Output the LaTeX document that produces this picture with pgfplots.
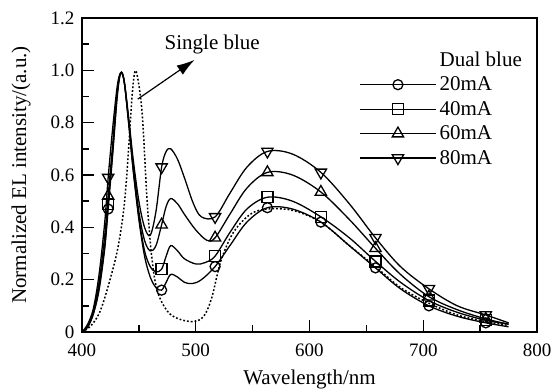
\documentclass[border=0pt]{standalone}
\usepackage{fontspec}
\setmainfont{Liberation Serif}
\usepackage{pgfplots}
\pgfplotsset{compat=1.18}
\usetikzlibrary{arrows.meta}
\pgfplotsset{
  myleg/.style={legend image code/.code={
    \draw[line width=1.3bp, solid] (0bp,0bp)--(76bp,0bp);
    \draw plot coordinates {(38bp,0bp)};}},
  curve/.style={black, line width=1.3bp, smooth, tension=0.55, no marks},
  mk/.style={black, only marks, myleg},
}
\begin{document}
\begin{tikzpicture}
\useasboundingbox (-82bp,-59bp) rectangle (470bp,332bp);
\begin{axis}[
  at={(0,0)}, anchor=south west,
  scale only axis, width=455bp, height=314bp,
  xmin=400, xmax=800, ymin=0, ymax=1.2,
  xtick={400,500,600,700,800}, minor x tick num=1,
  ytick={0,0.2,0.4,0.6,0.8,1.0,1.2},
  yticklabels={0,0.2,0.4,0.6,0.8,1.0,1.2}, minor y tick num=1,
  tick align=inside, xtick pos=bottom, ytick pos=left,
  axis line style={line width=1.6bp},
  major tick length=12bp, minor tick length=7bp,
  every tick/.style={line width=1.4bp, black},
  tick label style={font=\fontsize{19bp}{22bp}\selectfont},
  xticklabel style={yshift=-8bp},
  yticklabel style={xshift=-4bp},
  /pgf/number format/assume math mode=true,
  xlabel={Wavelength/nm}, ylabel={Normalized EL intensity/(a.u.)},
  xlabel style={font=\fontsize{21bp}{25bp}\selectfont, at={(axis description cs:0.5,-0.168)}, anchor=base},
  ylabel style={font=\fontsize{21bp}{25bp}\selectfont, at={(axis description cs:-0.134,0.5)}, anchor=center},
  legend style={draw=none, fill=none, at={(axis description cs:0.609,0.907)}, anchor=north west,
    font=\fontsize{21bp}{25bp}\selectfont, row sep=0bp, inner sep=0bp, nodes={inner xsep=3bp, inner ysep=4.5bp}},
  legend cell align=left,
]
\addlegendimage{empty legend}
\addlegendentry{Dual blue}

% 20 mA
\addplot[curve, forget plot] coordinates {
(400,0.0)(405,0.02)(410,0.07)(415,0.16)(420,0.32)(423,0.47)(427,0.68)(431,0.90)(434,0.99)(437,0.96)(441,0.80)(445,0.62)(450,0.43)(455,0.29)(460,0.21)(465,0.17)(470,0.16)(474,0.19)(478,0.22)(484,0.21)(490,0.19)(497,0.185)(505,0.20)(517,0.25)(530,0.33)(545,0.42)(563,0.475)(585,0.47)(610,0.42)(635,0.33)(658,0.245)(680,0.165)(705,0.10)(730,0.06)(755,0.035)(775,0.02)};
\addplot[mk, mark=o, mark size=5bp, mark options={solid, fill=white, line width=1.3bp}] coordinates {
(423,0.47)(470,0.16)(517,0.25)(563,0.475)(610,0.42)(658,0.245)(705,0.10)(755,0.035)};
\addlegendentry{20mA}

% 40 mA
\addplot[curve, forget plot] coordinates {
(400,0.0)(405,0.02)(410,0.07)(415,0.17)(420,0.33)(423,0.49)(427,0.69)(431,0.91)(434,0.99)(437,0.96)(441,0.80)(445,0.62)(450,0.44)(455,0.31)(460,0.25)(465,0.23)(470,0.24)(474,0.29)(478,0.33)(484,0.31)(490,0.28)(500,0.26)(508,0.265)(517,0.29)(530,0.38)(545,0.47)(563,0.515)(585,0.50)(610,0.44)(635,0.36)(658,0.27)(680,0.19)(705,0.12)(730,0.075)(755,0.045)(775,0.03)};
\addplot[mk, mark=square, mark size=5.5bp, mark options={solid, fill=white, line width=1.3bp}] coordinates {
(423,0.49)(470,0.24)(517,0.29)(563,0.515)(610,0.44)(658,0.27)(705,0.12)(755,0.045)};
\addlegendentry{40mA}

% 60 mA
\addplot[curve, forget plot] coordinates {
(400,0.0)(405,0.02)(410,0.08)(415,0.19)(420,0.37)(423,0.52)(427,0.72)(431,0.92)(434,0.99)(437,0.96)(441,0.81)(445,0.64)(450,0.46)(455,0.35)(460,0.31)(465,0.33)(470,0.41)(474,0.48)(478,0.51)(484,0.49)(490,0.45)(500,0.39)(510,0.35)(517,0.36)(530,0.45)(545,0.55)(563,0.61)(585,0.60)(610,0.535)(635,0.43)(658,0.32)(680,0.22)(705,0.135)(730,0.085)(755,0.05)(775,0.03)};
\addplot[mk, mark=triangle, mark size=6.5bp, mark options={solid, fill=white, line width=1.3bp}] coordinates {
(423,0.52)(470,0.41)(517,0.36)(563,0.61)(610,0.535)(658,0.32)(705,0.135)(755,0.05)};
\addlegendentry{60mA}

% 80 mA
\addplot[curve, forget plot] coordinates {
(400,0.0)(405,0.03)(410,0.09)(415,0.22)(420,0.42)(423,0.59)(427,0.78)(431,0.94)(434,0.99)(437,0.96)(441,0.82)(445,0.66)(450,0.50)(455,0.40)(460,0.37)(465,0.46)(470,0.63)(474,0.69)(478,0.70)(484,0.66)(490,0.59)(498,0.49)(505,0.44)(517,0.44)(530,0.53)(545,0.63)(563,0.69)(585,0.68)(610,0.61)(635,0.49)(658,0.36)(680,0.25)(705,0.165)(730,0.10)(755,0.065)(775,0.035)};
\addplot[mk, mark=triangle, mark size=6.5bp, mark options={solid, fill=white, line width=1.3bp, rotate=180}] coordinates {
(423,0.59)(470,0.63)(517,0.44)(563,0.69)(610,0.61)(658,0.36)(705,0.165)(755,0.065)};
\addlegendentry{80mA}

% single blue
\addplot[black, line width=1.5bp, dash pattern=on 1.8bp off 2bp, smooth, tension=0.55, no marks, forget plot] coordinates {
(400,0.0)(407,0.02)(415,0.07)(422,0.16)(431,0.31)(437,0.48)(441,0.70)(444,0.90)(446.5,0.995)(449,0.97)(453,0.83)(457,0.52)(461,0.30)(466,0.16)(475,0.08)(485,0.05)(498,0.04)(507,0.06)(514,0.13)(522,0.27)(533,0.38)(548,0.45)(563,0.47)(585,0.465)(610,0.42)(635,0.33)(658,0.25)(680,0.17)(705,0.11)(730,0.065)(755,0.04)(775,0.025)};

\draw[line width=1.2bp, -{Latex[length=18bp,width=11bp]}] (axis cs:449,0.89) -- (axis cs:499,1.04);
\node[font=\fontsize{21bp}{25bp}\selectfont, anchor=base] at (axis cs:514.5,1.078) {Single blue};
\end{axis}
\end{tikzpicture}
\end{document}
